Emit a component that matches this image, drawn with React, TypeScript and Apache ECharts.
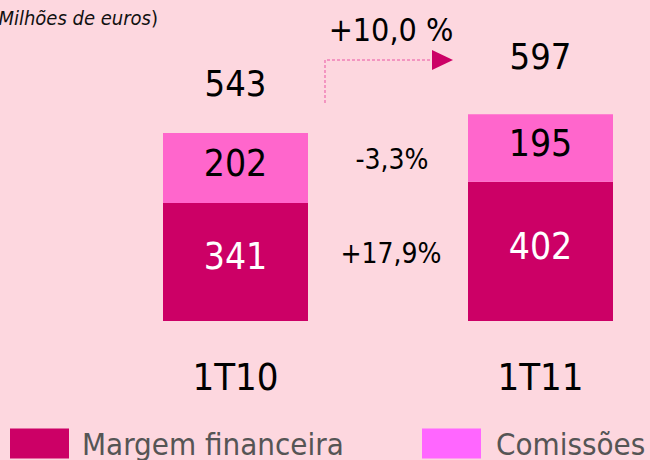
import React, { useEffect, useRef } from "react";
import * as echarts from "echarts";

const categories = ["1T10", "", "1T11"];
const margem = [341, "-", 402];
const comissoes = [202, "-", 195];
const totals = [543, "-", 597];
const seriesNames = ["Margem financeira", "Comissões"];
const changeMargem = "+17,9%";
const changeComissoes = "-3,3%";
const changeTotal = "+10,0 %";
const unitTitle = "(Milhões de euros";

const FONT = "'DejaVu Sans Condensed', 'DejaVu Sans', sans-serif";
const DARK = "#CC0066";
const LIGHT = "#FF66CC";

export default function App() {
  const ref = useRef<HTMLDivElement>(null);
  useEffect(() => {
    if (!ref.current) return;
    const chart = echarts.init(ref.current, null, { renderer: "svg" });
    const totalDistances = [32, 0, 40];
    chart.setOption({
      animation: false,
      backgroundColor: "#FDD7DF",
      textStyle: { fontFamily: FONT },
      grid: { left: 159.25, right: 33.25, top: 78.7, bottom: 139 },
      xAxis: {
        type: "category",
        data: categories,
        axisLine: { show: false },
        axisTick: { show: false },
        axisLabel: { fontSize: 38, color: "#000", margin: 37, fontFamily: FONT },
      },
      yAxis: { type: "value", min: 0, max: 700, show: false, splitLine: { show: false } },
      legend: [
        {
          left: 10,
          top: 428,
          itemWidth: 59,
          itemHeight: 30,
          icon: "rect",
          padding: 0,
          textStyle: { fontSize: 31, color: "#555555", fontFamily: FONT, padding: [0, 0, 0, 8] },
          data: [{ name: seriesNames[0], itemStyle: { color: DARK } }],
        },
        {
          left: 422,
          top: 428,
          itemWidth: 59,
          itemHeight: 30,
          icon: "rect",
          padding: 0,
          textStyle: { fontSize: 31, color: "#555555", fontFamily: FONT, padding: [0, 0, 0, 10] },
          data: [{ name: seriesNames[1], itemStyle: { color: "#FF66FF" } }],
        },
      ],
      series: [
        {
          name: seriesNames[0],
          type: "bar",
          stack: "t",
          barWidth: 145,
          data: margem,
          itemStyle: { color: DARK },
          label: { show: true, position: "inside", offset: [0, -5], fontSize: 37, color: "#fff", fontFamily: FONT },
        },
        {
          name: seriesNames[1],
          type: "bar",
          stack: "t",
          barWidth: 145,
          data: comissoes,
          itemStyle: { color: LIGHT },
          label: { show: true, position: "inside", offset: [0, -5], fontSize: 37, color: "#000", fontFamily: FONT },
        },
        {
          name: "Total",
          type: "bar",
          stack: "t",
          barWidth: 145,
          data: totals.map((t, i) =>
            t === "-"
              ? "-"
              : {
                  value: 0,
                  label: {
                    show: true,
                    position: "top",
                    distance: totalDistances[i],
                    formatter: String(t),
                    fontSize: 36,
                    color: "#000",
                    fontFamily: FONT,
                  },
                }
          ),
          itemStyle: { color: "transparent" },
        },
      ],
      graphic: [
        {
          type: "text",
          x: 158,
          y: 18,
          style: {
            text: "{i|" + unitTitle + "}{n|)}",
            align: "right",
            verticalAlign: "middle",
            rich: {
              i: { fontSize: 20, fontStyle: "italic", fill: "#111", fontFamily: FONT },
              n: { fontSize: 20, fill: "#111", fontFamily: FONT },
            },
          },
        },
        {
          type: "text",
          x: 391,
          y: 30,
          style: { text: changeTotal, fontSize: 32, fill: "#000", align: "center", verticalAlign: "middle", fontFamily: FONT },
        },
        {
          type: "text",
          x: 392,
          y: 159,
          style: { text: changeComissoes, fontSize: 28, fill: "#000", align: "center", verticalAlign: "middle", fontFamily: FONT },
        },
        {
          type: "text",
          x: 391,
          y: 253,
          style: { text: changeMargem, fontSize: 28, fill: "#000", align: "center", verticalAlign: "middle", fontFamily: FONT },
        },
        {
          type: "polyline",
          shape: { points: [[325, 103], [325, 60], [434, 60]] },
          style: { stroke: "#F080B8", lineWidth: 1.5, lineDash: [3, 2], fill: null },
        },
        {
          type: "polygon",
          shape: { points: [[432, 50], [453, 60], [432, 70]] },
          style: { fill: DARK },
        },
      ],
    });
    return () => chart.dispose();
  }, []);
  return <div ref={ref} style={{ width: 650, height: 460, position: "absolute", left: 0, top: 0 }} />;
}
